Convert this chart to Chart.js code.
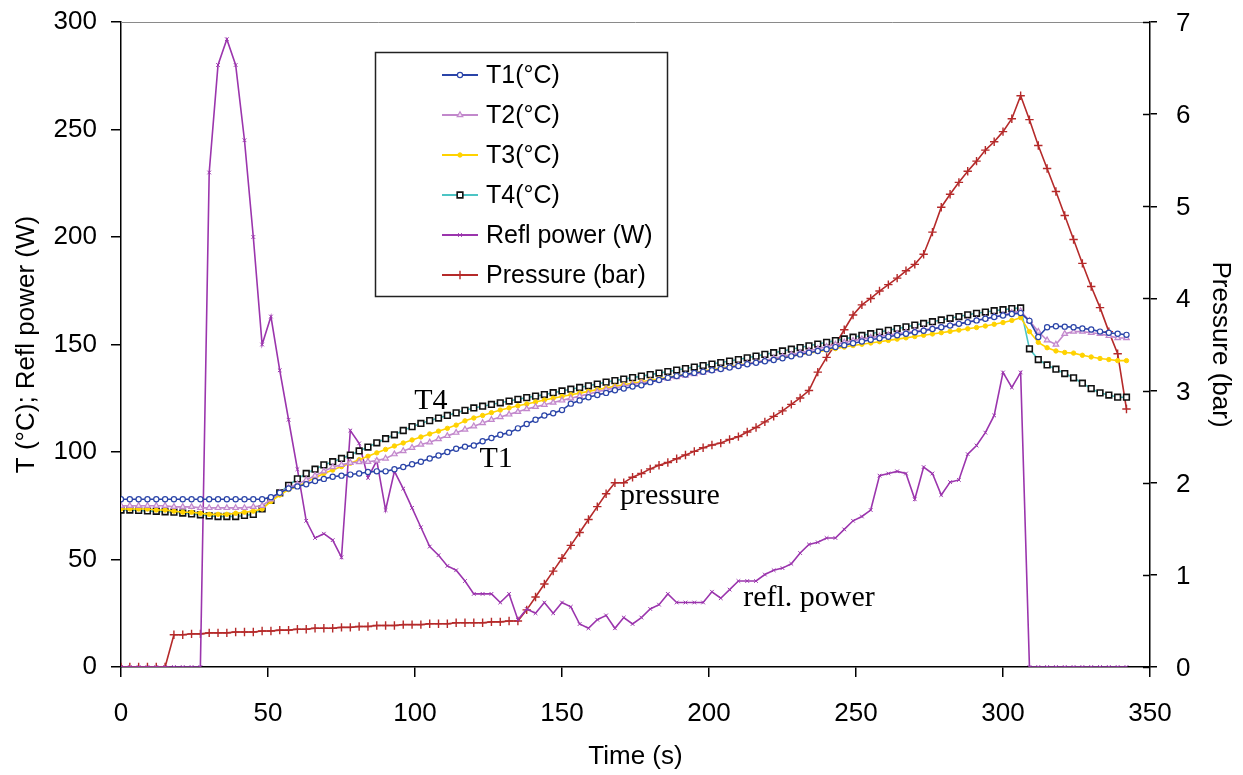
<!DOCTYPE html>
<html>
<head>
<meta charset="utf-8">
<script src="https://cdn.jsdelivr.net/npm/chart.js@4/dist/chart.umd.min.js"></script>
<style>
html,body{margin:0;padding:0;background:#fff;}
#wrap{width:1243px;height:775px;position:relative;}
</style>
</head>
<body>
<div id="wrap"><canvas id="c" width="1243" height="775"></canvas></div>
<script>
// ---- data ----
const time = [0,3,6,9,12,15,18,21,24,27,30,33,36,39,42,45,48,51,54,57,60,63,66,69,72,75,78,81,84,87,90,93,96,99,102,105,108,111,114,117,120,123,126,129,132,135,138,141,144,147,150,153,156,159,162,165,168,171,174,177,180,183,186,189,192,195,198,201,204,207,210,213,216,219,222,225,228,231,234,237,240,243,246,249,252,255,258,261,264,267,270,273,276,279,282,285,288,291,294,297,300,303,306,309,312,315,318,321,324,327,330,333,336,339,342];

const t1 = [78,78,78,78,78,78, 78,78,78,78,78,78, 78,78,78,78,78,79,
  81,83,84,85,86.5,87.5, 88.5,89,89.5,90,90.7,91, 91,92,93,94.3,95.5,97,
  98.4,100,101.5,102.5,103,105, 106.5,108,109,111,113,115, 117,118,119.5,122.5,124,125.5,
  126.5,127.5,128.7,129.5,130.5,131, 132.5,133.5,134.5,135.3,136,136.8, 137.3,138,138.6,139.3,140,140.8,
  141.5,142.2,142.8,143.6,144.5,145.4, 146.2,147,147.8,148.8,149.7,150.6, 151.4,152.2,152.9,153.6,154.3,155,
  155.7,156.4,157.2,158,158.8,159.6, 160.4,161.2,162,162.8,163.5,164.2, 164.6,161,153.5,158,158.5,158.3,
  158,157.5,157,156,155.5,155, 154.5];

const t2 = [75,75,75,75,75,75, 74.5,74.5,74.5,74,74,74, 74,74,74,74.5,75,78,
  81,83.5,85,87,89,91, 93,94,95,95.3,95.5,96, 97,99,100.5,102,103.5,104.5,
  106,107.5,109,110.5,112,113.5, 115,116.3,117.5,118.7,120,121, 122,123,124,125,126,127,
  128,129,129.8,130.6,131.4,132.1, 132.8,133.5,134.2,134.9,135.6,136.3, 137,137.8,138.6,139.4,140.2,141,
  141.8,142.6,143.5,144.4,145.3,146.2, 147.1,148,149,150,151,151.8, 152.5,153.2,153.8,154.4,155,155.6,
  156.2,156.8,157.4,158.1,158.9,159.7, 160.5,161.3,162.1,162.9,163.7,164.7, 165.5,161,156,152,150,155,
  156,156,155.5,155,154,153, 153];

const t3 = [73.5,73.5,73.5,73.5,73,73, 72.5,72,72,71.5,71,71, 71,71.5,72,72.5,73.5,77,
  80,82.5,84,86,88,90, 91.6,93.2,94.8,96.4,98,99.6, 101.2,102.8,104.2,105.6,107,108.4,
  109.7,111,112.5,114.5,115.8,117, 118.3,119.5,120.5,121.5,122.3,123.3, 124.2,125,125.8,126.6,127.4,128.2,
  129,129.8,130.6,131.3,132,132.7, 133.4,134.1,134.8,135.5,136.2,136.9, 137.6,138.3,139,139.7,140.4,141.1,
  141.8,142.5,143.2,143.9,144.6,145.3, 146,146.7,147.4,148.1,148.8,149.5, 150.1,150.7,151.3,151.9,152.5,153.1,
  153.7,154.3,154.9,155.5,156.1,156.7, 157.3,157.9,158.6,159.4,160.2,161.2, 162.5,156,151,148.5,147,146.3,
  146,145,144.2,143.5,143,142.5, 142.5];

const t4 = [73,73,72.8,72.6,72.4,72.2, 72,71.6,71.2,70.8,70.3,70, 70,70,70.5,71,73.5,77.5,
  81,84.5,87.5,90,92,94, 95.5,97,98.6,100.5,102.3,104.3, 106.2,108,110,111.8,113.3,114.6,
  115.8,117,118.2,119.4,120.5,121.3, 122.1,122.9,123.7,124.5,125.3,126, 126.7,127.6,128.4,129.2,130,130.8,
  131.6,132.5,133.2,133.9,134.6,135.3, 136,136.7,137.4,138.1,138.8,139.5, 140.2,140.9,141.6,142.3,143,143.8,
  144.6,145.4,146.2,147,147.8,148.6, 149.4,150.2,151,151.8,152.6,153.4, 154.2,155,155.8,156.6,157.4,158.2,
  159,159.8,160.6,161.4,162.2,163, 163.8,164.5,165.1,165.7,166.2,166.7, 167,148,143,140.5,138.5,136.5,
  134.5,132,129.5,127.5,126.5,125.5, 125.5];

const reflPower = [0,0,0,0,0,0, 0,0,0,0,230,280, 292,280,245,200,150,163,
  138,115,92,68,60,62, 59,51,110,104,88,96, 73,91,83,74,65,56,
  52,47,45,40,34,34, 34,30,34,22,27,25, 30,25,30,28,20,18,
  22,24,18,23,20,23, 27,29,34,30,30,30, 30,35,32,36,40,40,
  40,43,45,46,48,53, 57,58,60,60,64,68, 70,73,89,90,91,90,
  78,93,90,80,86,87, 99,103,109,117,137,130, 137,0,0,0,0,0,
  0,0,0,0,0,0, 0];

const pressure = [0,0,0,0,0,0, 0.35,0.35,0.36,0.36,0.37,0.37, 0.37,0.38,0.38,0.38,0.39,0.39,
  0.40,0.40,0.41,0.41,0.42,0.42, 0.42,0.43,0.43,0.44,0.44,0.45, 0.45,0.45,0.46,0.46,0.46,0.47,
  0.47,0.47,0.48,0.48,0.48,0.48, 0.49,0.49,0.50,0.50,0.62,0.76, 0.90,1.04,1.18,1.32,1.46,1.60,
  1.74,1.88,2.00,2.00,2.06,2.10, 2.15,2.19,2.22,2.26,2.30,2.34, 2.38,2.41,2.43,2.47,2.50,2.55,
  2.60,2.66,2.72,2.78,2.85,2.92, 3.00,3.20,3.36,3.50,3.66,3.82, 3.93,4.00,4.08,4.15,4.22,4.30,
  4.37,4.48,4.72,4.99,5.13,5.26, 5.38,5.49,5.61,5.70,5.81,5.95, 6.20,5.94,5.66,5.41,5.16,4.90,
  4.64,4.38,4.13,3.90,3.64,3.40, 2.80];

const seriesLabels = ['T1(°C)','T2(°C)','T3(°C)','T4(°C)','Refl power (W)','Pressure (bar)'];
const annotations = [
  {text:'T4', x:105.4, y:123.7},
  {text:'T1', x:127.6, y:96.7},
  {text:'pressure', x:186.7, y:79.5},
  {text:'refl. power', x:234, y:32}
];

// ---- build chart ----
const pts = arr => arr.map((v,i) => ({x: time[i], y: v}));
const SANS = '"Liberation Sans", Arial, sans-serif';
const SERIF = '"Liberation Serif", "Times New Roman", serif';

const datasets = [
  {label: seriesLabels[0], data: pts(t1), yAxisID:'y', borderColor:'#2a44a8', backgroundColor:'#ffffff',
   pointStyle:'circle', pointRadius:2.6, pointBorderColor:'#2a44a8', pointBackgroundColor:'#ffffff', pointBorderWidth:1.2, borderWidth:1.6},
  {label: seriesLabels[1], data: pts(t2), yAxisID:'y', borderColor:'#c288cc', backgroundColor:'#ffffff',
   pointStyle:'triangle', pointRadius:3.2, pointBorderColor:'#c288cc', pointBackgroundColor:'#f4e4f6', pointBorderWidth:1.2, borderWidth:1.6},
  {label: seriesLabels[2], data: pts(t3), yAxisID:'y', borderColor:'#ffd200', backgroundColor:'#ffd200',
   pointStyle:'circle', pointRadius:2.2, pointBorderColor:'#ffd200', pointBackgroundColor:'#ffd200', pointBorderWidth:1, borderWidth:1.6},
  {label: seriesLabels[3], data: pts(t4), yAxisID:'y', borderColor:'#4cc4c4', backgroundColor:'#ffffff',
   pointStyle:'rect', pointRadius:4, pointBorderColor:'#111111', pointBackgroundColor:'#ffffff', pointBorderWidth:1.6, borderWidth:1.6},
  {label: seriesLabels[4], data: pts(reflPower), yAxisID:'y', borderColor:'#9b35ad', backgroundColor:'#9b35ad',
   pointStyle:'crossRot', pointRadius:2.6, pointBorderColor:'#9b35ad', pointBorderWidth:1, borderWidth:1.6},
  {label: seriesLabels[5], data: pts(pressure), yAxisID:'y1', borderColor:'#b52a2a', backgroundColor:'#b52a2a',
   pointStyle:'cross', pointRadius:4.2, pointBorderColor:'#b52a2a', pointBorderWidth:1.4, borderWidth:1.6}
];

const decor = {
  id: 'decor',
  afterDraw(chart) {
    const ctx = chart.ctx, ca = chart.chartArea;
    const sx = chart.scales.x, sy = chart.scales.y, sy1 = chart.scales.y1;
    ctx.save();
    // top border
    ctx.strokeStyle = '#8a8a8a'; ctx.lineWidth = 1;
    ctx.beginPath(); ctx.moveTo(ca.left, ca.top + 0.5); ctx.lineTo(ca.right, ca.top + 0.5); ctx.stroke();
    // inward ticks + labels on right axis
    ctx.strokeStyle = '#000'; ctx.lineWidth = 1.5;
    ctx.fillStyle = '#000';
    ctx.font = '26px ' + SANS;
    ctx.textAlign = 'left'; ctx.textBaseline = 'middle';
    sy1.ticks.forEach(t => {
      const py = Math.round(sy1.getPixelForValue(t.value)) + 0.5;
      ctx.beginPath(); ctx.moveTo(ca.right - 7, py); ctx.lineTo(ca.right, py); ctx.stroke();
      ctx.fillText(t.label, ca.right + 26, py + 1);
    });
    // annotations
    ctx.font = '30px ' + SERIF;
    ctx.textAlign = 'center'; ctx.textBaseline = 'middle';
    annotations.forEach(a => {
      ctx.fillText(a.text, sx.getPixelForValue(a.x), sy.getPixelForValue(a.y));
    });
    // legend box
    const bx = 375, by = 52, bw = 292, bh = 244;
    ctx.fillStyle = '#fff';
    ctx.fillRect(bx, by, bw, bh);
    ctx.strokeStyle = '#222'; ctx.lineWidth = 1.5;
    ctx.strokeRect(bx + 0.5, by + 0.5, bw, bh);
    ctx.font = '25px ' + SANS;
    ctx.textAlign = 'left'; ctx.textBaseline = 'middle';
    chart.data.datasets.forEach((ds, i) => {
      const ry = 75 + i * 40;
      ctx.strokeStyle = ds.borderColor; ctx.lineWidth = 1.8;
      ctx.beginPath(); ctx.moveTo(442, ry); ctx.lineTo(478, ry); ctx.stroke();
      ctx.fillStyle = ds.pointBackgroundColor || ds.borderColor;
      ctx.strokeStyle = ds.pointBorderColor || ds.borderColor;
      ctx.lineWidth = ds.pointBorderWidth || 1;
      if (Chart.helpers && Chart.helpers.drawPoint) {
        Chart.helpers.drawPoint(ctx, {pointStyle: ds.pointStyle, radius: ds.pointRadius, rotation: 0, borderWidth: ds.pointBorderWidth || 1}, 460, ry);
      }
      ctx.fillStyle = '#000';
      ctx.fillText(ds.label, 486, ry + 1);
    });
    ctx.restore();
  }
};

new Chart(document.getElementById('c'), {
  type: 'line',
  data: { datasets },
  options: {
    responsive: false,
    animation: false,
    layout: { padding: { top: 22, left: 0, right: 0, bottom: 0 } },
    elements: { line: { tension: 0 } },
    plugins: { legend: { display: false }, tooltip: { enabled: false } },
    scales: {
      x: {
        type: 'linear', min: 0, max: 350,
        ticks: { stepSize: 50, color: '#000', font: { family: SANS, size: 26 }, padding: 21, maxRotation: 0 },
        grid: { display: true, drawOnChartArea: false, drawTicks: true, tickLength: 10, color: '#000', lineWidth: 1.5 },
        border: { display: true, color: '#000', width: 1.5 },
        title: { display: true, text: 'Time (s)', color: '#000', font: { family: SANS, size: 26 }, padding: { top: 0, bottom: 3 } },
        afterFit(s) { s.height = 108; }
      },
      y: {
        type: 'linear', position: 'left', min: 0, max: 300,
        ticks: { stepSize: 50, color: '#000', font: { family: SANS, size: 26 }, padding: 14 },
        grid: { display: true, drawOnChartArea: false, drawTicks: true, tickLength: 10, color: '#000', lineWidth: 1.5 },
        border: { display: true, color: '#000', width: 1.5 },
        title: { display: true, text: 'T (°C); Refl power (W)', color: '#000', font: { family: SANS, size: 26 }, padding: { top: 11, bottom: 0 } },
        afterFit(s) { s.width = 121; s.paddingTop = 0; s.paddingBottom = 0; }
      },
      y1: {
        type: 'linear', position: 'right', min: 0, max: 7,
        ticks: { stepSize: 1, display: false },
        grid: { display: true, drawOnChartArea: false, drawTicks: true, tickLength: 7, color: '#000', lineWidth: 1.5 },
        border: { display: true, color: '#000', width: 1.5 },
        title: { display: true, text: 'Pressure (bar)', color: '#000', font: { family: SANS, size: 26 }, padding: { top: 7, bottom: 0 } },
        afterFit(s) { s.width = 93; s.paddingTop = 0; s.paddingBottom = 0; }
      }
    }
  },
  plugins: [decor]
});
</script>
</body>
</html>
